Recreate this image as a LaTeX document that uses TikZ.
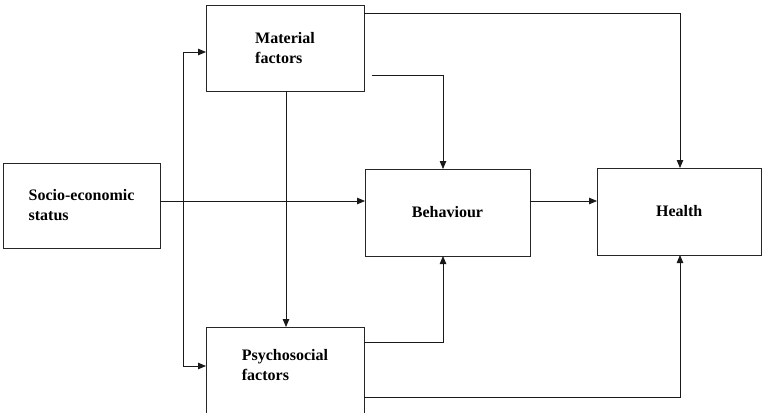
\documentclass[tikz,border=0pt]{standalone}
\usepackage{fontspec}
\setmainfont{Liberation Serif}
\usetikzlibrary{arrows.meta}
\begin{document}
\begin{tikzpicture}[x=1pt,y=-1pt,
  boxbase/.style={draw=black!85,line width=0.8pt,inner sep=0pt,outer sep=0pt,
    font=\fontsize{16}{20}\selectfont\bfseries},
  box/.style={boxbase,align=left},
  arr/.style={draw=black!90,line width=0.8pt,-{Triangle[length=8pt,width=6.5pt]}}]
\useasboundingbox (0,0) rectangle (762,412);
\fill[white] (0,0) rectangle (762,412);
\node[box,minimum width=157pt,minimum height=85pt] (ses) at (81.5,205.5) {Socio-economic\\status};
\node[box,minimum width=158pt,minimum height=86pt] (mat) at (285,48) {Material\\factors};
\node[boxbase,minimum width=158pt,minimum height=90pt,text height=14pt,text depth=38pt] (psy) at (285,372)
  {\begin{tabular}[t]{@{}l@{}}Psychosocial\\factors\end{tabular}};
\node[box,minimum width=165pt,minimum height=87pt] (beh) at (447.5,212.5) {Behaviour};
\node[box,minimum width=164.5pt,minimum height=87pt] (hea) at (679.25,211.5) {Health};
\coordinate (j) at (183,201);
\coordinate (m2) at (372,75);
\draw[arr] (ses.east |- 0,201) -- (beh.west |- 0,201);
\draw[arr] (j) |- (mat.west |- 0,52);
\draw[arr] (j) |- (psy.west |- 0,366);
\draw[arr] (mat.south -| 286,0) -- (psy.north -| 286,0);
\draw[arr] (mat.east |- 0,13) -| (hea.north -| 680,0);
\draw[arr] (m2) -| (beh.north -| 443,0);
\draw[arr] (beh.east |- 0,201) -- (hea.west |- 0,201);
\draw[arr] (psy.east |- 0,342) -| (beh.south -| 443,0);
\draw[arr] (psy.east |- 0,397) -| (hea.south -| 680,0);
\end{tikzpicture}
\end{document}
